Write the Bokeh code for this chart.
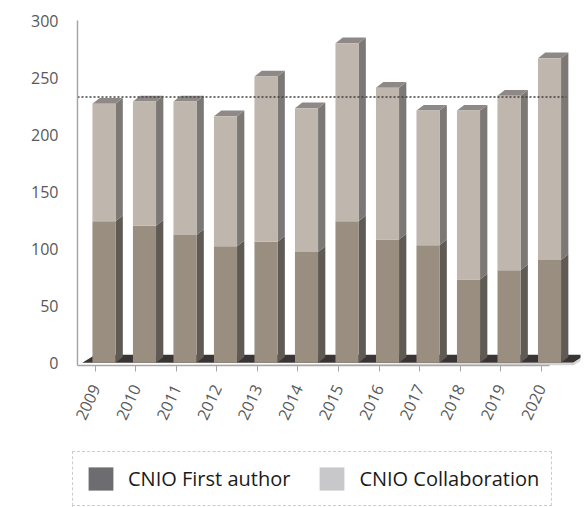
import math
import numpy as np
from bokeh.plotting import figure
from bokeh.layouts import column
from bokeh.models import ColumnDataSource, FixedTicker, Legend, LegendItem, Range1d
from bokeh.embed import file_html
from bokeh.resources import INLINE

# ---- data ----
years = ["2009", "2010", "2011", "2012", "2013", "2014", "2015", "2016", "2017", "2018", "2019", "2020"]
first_author = [124, 120, 112, 102, 106, 97, 124, 108, 103, 73, 81, 90]
collaboration = [103, 109, 117, 114, 145, 126, 156, 133, 118, 148, 153, 177]
reference_line = 233
y_ticks = [0, 50, 100, 150, 200, 250, 300]
series_names = ["CNIO First author", "CNIO Collaboration"]

# ---- styling constants ----
FONT = "Open Sans"
TXT = "#595959"
AX = "#a6a6a6"
DARK_FRONT = "#9a8e81"
DARK_SIDE = "#5f5a54"
LIGHT_FRONT = "#bfb6ae"
LIGHT_SIDE = "#7c7875"
TOP = "#8e8986"
FLOOR = "#3a3434"
FLOOR_EDGE = "#d4d4d4"
LEGEND_COLORS = ["#6d6c71", "#c8c8ca"]

idx = np.arange(len(years))
bx = idx + 0.21          # bar centre (3D perspective offset from tick)
w = 0.57                 # front face width
dx, dy = 0.18, 5.0       # 3D depth offset
first = np.array(first_author, dtype=float)
total = first + np.array(collaboration, dtype=float)
left = bx - w / 2
right = bx + w / 2

p = figure(width=588, height=451, output_backend="svg", toolbar_location=None,
           x_range=(-0.444, 11.975), y_range=(-2.5, 300),
           min_border_left=77, min_border_right=8, min_border_top=20, min_border_bottom=86)
p.outline_line_color = None
p.grid.visible = False
p.background_fill_color = "white"

# floor
x0 = left[0] - 0.25
x1 = right[-1] + 0.3
fdx, fdy = 0.32, 7.0
p.patch([x0, x1, x1 + fdx, x0 + fdx], [0, 0, fdy, fdy], fill_color=FLOOR, line_color=None)
p.patch([x0, x1, x1 + fdx, x1 + fdx, x1], [-2.5, -2.5, fdy - 2.5, fdy, 0], fill_color=FLOOR_EDGE, line_color=None)

# side faces
side_lo_x = [[r, r, r + dx, r + dx] for r in right]
side_lo_y = [[0, f, f + dy, dy] for f in first]
side_hi_x = [[r, r, r + dx, r + dx] for r in right]
side_hi_y = [[f, t, t + dy, f + dy] for f, t in zip(first, total)]
top_x = [[l, r, r + dx, l + dx] for l, r in zip(left, right)]
top_y = [[t, t, t + dy, t + dy] for t in total]
p.patches(side_lo_x, side_lo_y, fill_color=DARK_SIDE, line_color=None)
p.patches(side_hi_x, side_hi_y, fill_color=LIGHT_SIDE, line_color=None)
p.patches(top_x, top_y, fill_color=TOP, line_color=None)

src = ColumnDataSource(dict(x=bx, first=first, total=total))
p.vbar(x="x", width=w, bottom=0, top="first", source=src, fill_color=DARK_FRONT, line_color=None)
p.vbar(x="x", width=w, bottom="first", top="total", source=src, fill_color=LIGHT_FRONT, line_color=None)

# reference dotted line (across the plotted categories)
p.line(x=[-0.444, right[-1] + 0.13], y=[reference_line, reference_line],
       line_color="#404040", line_dash="2 2", line_width=1.5)

# axes
p.xaxis.ticker = FixedTicker(ticks=list(idx))
p.xaxis.major_label_overrides = {int(i): y for i, y in zip(idx, years)}
p.xaxis.major_label_orientation = math.radians(65)
p.xaxis.major_label_text_font = FONT
p.xaxis.major_label_text_font_size = "16px"
p.xaxis.major_label_text_color = TXT
p.xaxis.axis_line_color = AX
p.xaxis.axis_line_width = 1.5
p.xaxis.major_tick_line_color = AX
p.xaxis.major_tick_out = 6
p.xaxis.major_tick_in = 0
p.xaxis.minor_tick_line_color = None
p.xaxis.major_label_standoff = 14
p.xaxis.bounds = (-0.444, 11.21)

p.yaxis.ticker = FixedTicker(ticks=y_ticks)
p.yaxis.major_label_text_font = FONT
p.yaxis.major_label_text_font_size = "16px"
p.yaxis.major_label_text_color = TXT
p.yaxis.axis_line_color = AX
p.yaxis.axis_line_width = 1.5
p.yaxis.major_tick_line_color = None
p.yaxis.major_tick_out = 0
p.yaxis.major_tick_in = 0
p.yaxis.minor_tick_line_color = None
p.yaxis.major_label_standoff = 19
p.yaxis.bounds = (-2.5, 300)

# ---- legend figure ----
lg = figure(width=588, height=56, output_backend="svg", toolbar_location=None,
            x_range=Range1d(0, 1), y_range=Range1d(0, 1),
            x_axis_location=None, y_axis_location=None,
            min_border_left=72, min_border_right=8, min_border_top=0, min_border_bottom=0)
if "frame_align" in lg.properties():
    lg.frame_align = False
lg.outline_line_color = None
lg.grid.visible = False
items = []
for name, col in zip(series_names, LEGEND_COLORS):
    r = lg.vbar(x=[-10], top=[1], width=0.5, fill_color=col, line_color=None)
    items.append(LegendItem(label=name, renderers=[r]))
legend = Legend(items=items, orientation="horizontal", location=(0, 1),
                glyph_width=31, glyph_height=29, label_standoff=12, spacing=26,
                padding=12, margin=0,
                label_text_font=FONT, label_text_font_size="20px", label_text_color="#1a1a1a",
                border_line_color="#9a9a9a", border_line_dash="1 1", border_line_width=1,
                background_fill_alpha=1)
lg.add_layout(legend, "center")

layout = column(p, lg, spacing=0)
open("out.html", "w").write(file_html(layout, INLINE))
